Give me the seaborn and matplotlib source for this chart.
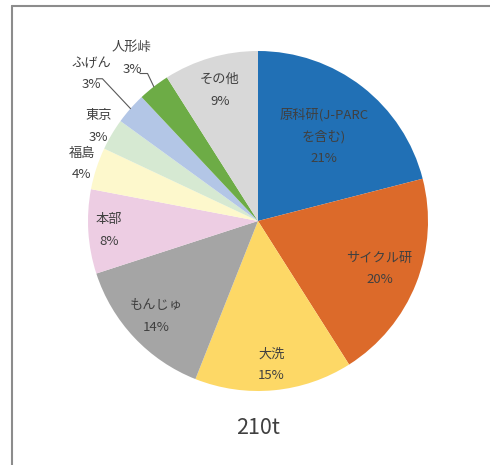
import numpy as np
import matplotlib
matplotlib.use("Agg")
import matplotlib.pyplot as plt
import seaborn as sns
from matplotlib.lines import Line2D

sns.set_theme(style="white")
plt.rcParams['font.family'] = ['Noto Sans CJK JP', 'DejaVu Sans']

# Data (share of total, %)
labels = ['原科研(J-PARC\nを含む)', 'サイクル研', '大洗', 'もんじゅ', '本部',
          '福島', '東京', 'ふげん', '人形峠', 'その他']
shares = [21, 20, 15, 14, 8, 4, 3, 3, 3, 9]
total_label = '210t'

colors = ['#2170B5', '#DC6A2A', '#FDD866', '#A5A5A5', '#EDCDE3',
          '#FDF8CC', '#D6E9D2', '#B3C6E6', '#6DAC46', '#D8D8D8']
# radial position of each label (fraction of radius)
label_r = [0.63, 0.77, 0.85, 0.82, 0.88, 1.09, 1.09, 1.31, 1.21, 0.80]

fig = plt.figure(figsize=(4.9, 4.65), dpi=100)
W, H = 490, 465
cx, cy, R = 258, 221, 170
ax = fig.add_axes([(cx - R) / W, (H - cy - R) / H, 2 * R / W, 2 * R / H])

wedges, _ = ax.pie(shares, colors=colors, startangle=90, counterclock=False,
                   radius=1.0, wedgeprops=dict(linewidth=0))
ax.set_xlim(-1, 1)
ax.set_ylim(-1, 1)
ax.set_aspect('equal')
ax.axis('off')

txt_col = '#404040'
for w, lab, s, r in zip(wedges, labels, shares, label_r):
    ang = np.deg2rad((w.theta1 + w.theta2) / 2)
    x, y = r * np.cos(ang), r * np.sin(ang)
    ax.text(x, y, f'{lab}\n{s}%', ha='center', va='center', fontsize=9.5,
            color=txt_col, linespacing=1.85)

# leader lines for the small outside labels
for name, knee_r, tail in [('ふげん', 1.22, 0.035), ('人形峠', 1.06, 0.045)]:
    w = wedges[labels.index(name)]
    ang = np.deg2rad((w.theta1 + w.theta2) / 2)
    ex, ey = np.cos(ang), np.sin(ang)
    kx, ky = knee_r * np.cos(ang), knee_r * np.sin(ang) + 0.03
    ax.plot([ex, kx, kx - tail], [ey, ky, ky], color='#595959', lw=0.8,
            clip_on=False)

fig.text(cx / W, 1 - 428 / H, total_label, ha='center', va='center',
         fontsize=15.5, color=txt_col)

# chart frame
fig.add_artist(Line2D([12 / W, 12 / W], [0, 1 - 6 / H], color='#8C8C8C', lw=1.5))
fig.add_artist(Line2D([12 / W, 1], [1 - 6 / H, 1 - 6 / H], color='#8C8C8C', lw=1.5))

fig.savefig('out.png', dpi=100)
